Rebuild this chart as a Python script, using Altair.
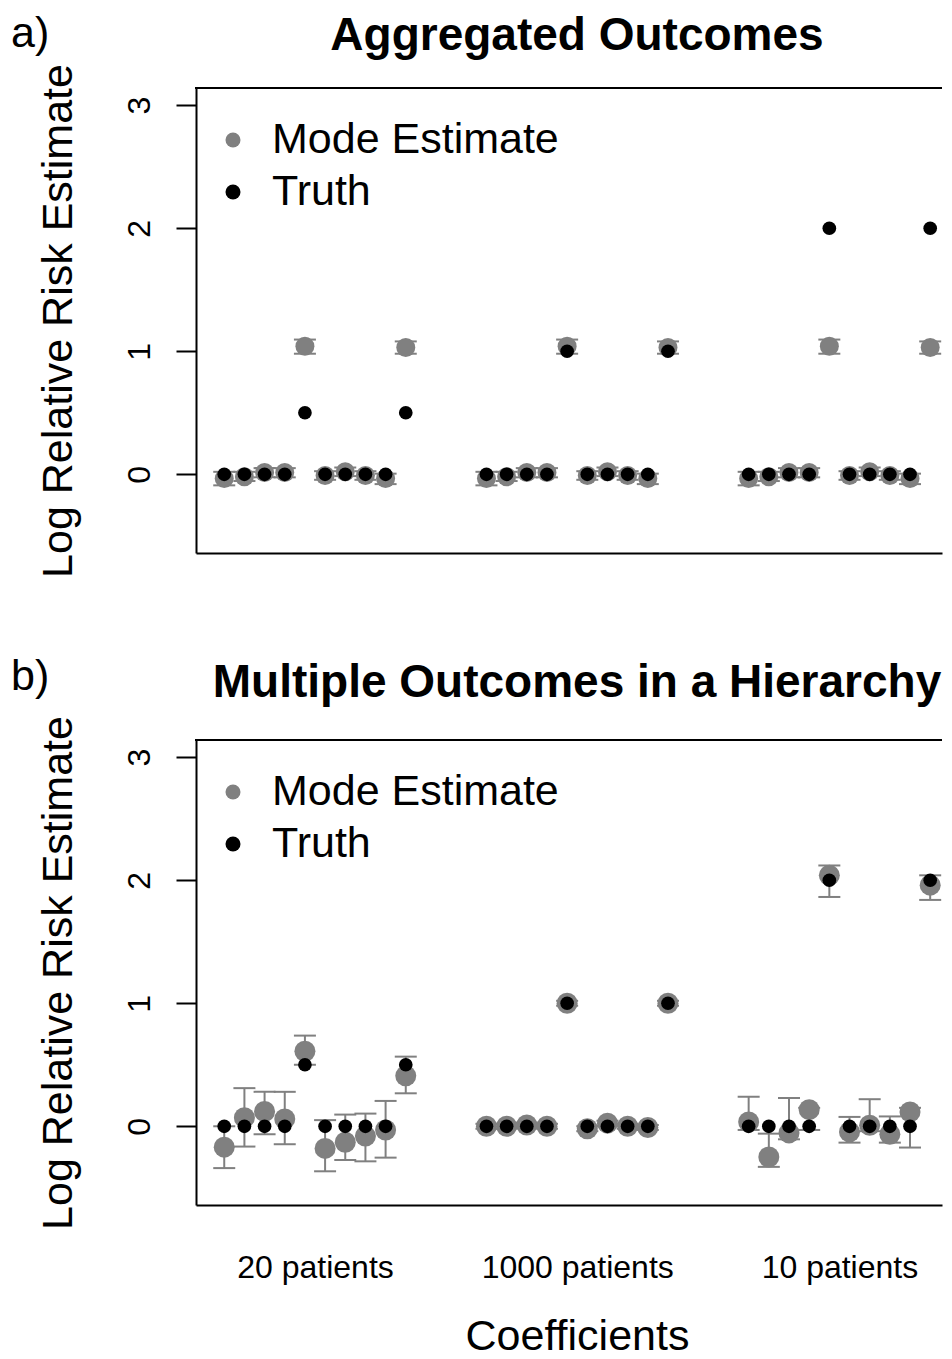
import altair as alt
import pandas as pd

# ---------------- data ----------------
groups = ["20 patients", "1000 patients", "10 patients"]
series_names = ["Mode Estimate", "Truth"]
y_ticks = [0, 1, 2, 3]
panel_tags = ["a)", "b)"]
panel_titles = ["Aggregated Outcomes", "Multiple Outcomes in a Hierarchy"]

truth_20 = [0, 0, 0, 0, 0.5, 0, 0, 0, 0, 0.5]
truth_1000 = [0, 0, 0, 0, 1.0, 0, 0, 0, 0, 1.0]
truth_10 = [0, 0, 0, 0, 2.0, 0, 0, 0, 0, 2.0]

# panel a) aggregated outcomes
mode_a_20 = [-0.035, -0.02, 0.015, 0.015, 1.04, -0.01, 0.02, -0.01, -0.035, 1.03]
lo_a_20 = [-0.09, -0.055, -0.025, -0.025, 0.98, -0.045, -0.015, -0.045, -0.08, 0.98]
hi_a_20 = [0.02, 0.02, 0.05, 0.05, 1.095, 0.025, 0.055, 0.025, 0.005, 1.08]
mode_a_1000 = [-0.035, -0.02, 0.015, 0.015, 1.04, -0.01, 0.02, -0.01, -0.035, 1.03]
lo_a_1000 = [-0.09, -0.055, -0.025, -0.025, 0.98, -0.045, -0.015, -0.045, -0.08, 0.98]
hi_a_1000 = [0.02, 0.02, 0.05, 0.05, 1.095, 0.025, 0.055, 0.025, 0.005, 1.08]
mode_a_10 = [-0.035, -0.02, 0.015, 0.015, 1.04, -0.01, 0.02, -0.01, -0.035, 1.03]
lo_a_10 = [-0.09, -0.055, -0.025, -0.025, 0.98, -0.045, -0.015, -0.045, -0.08, 0.98]
hi_a_10 = [0.02, 0.02, 0.05, 0.05, 1.095, 0.025, 0.055, 0.025, 0.005, 1.08]

# panel b) multiple outcomes in a hierarchy
mode_b_20 = [-0.17, 0.07, 0.12, 0.06, 0.61, -0.18, -0.13, -0.08, -0.03, 0.41]
lo_b_20 = [-0.34, -0.165, -0.065, -0.146, 0.50, -0.366, -0.274, -0.285, -0.255, 0.268]
hi_b_20 = [0.0, 0.31, 0.28, 0.28, 0.737, 0.05, 0.095, 0.103, 0.206, 0.566]
mode_b_1000 = [0.0, 0.0, 0.01, 0.0, 1.0, -0.02, 0.025, 0.0, -0.01, 1.0]
lo_b_1000 = [-0.02, -0.02, -0.01, -0.02, 0.98, -0.04, 0.005, -0.02, -0.03, 0.98]
hi_b_1000 = [0.02, 0.02, 0.03, 0.02, 1.02, 0.0, 0.045, 0.02, 0.01, 1.02]
mode_b_10 = [0.035, -0.25, -0.054, 0.135, 2.04, -0.046, 0.008, -0.065, 0.117, 1.96]
lo_b_10 = [-0.03, -0.33, -0.106, -0.03, 1.864, -0.133, -0.04, -0.133, -0.173, 1.84]
hi_b_10 = [0.24, -0.06, 0.23, 0.15, 2.12, 0.076, 0.22, 0.08, 0.15, 2.04]

# ---------------- style ----------------
FONT = "Liberation Sans"
GRAY = "#808080"
W, H = 746, 465
PX_PER_UNIT = 20.17
N_COEF = 10
GAP = 3
TAG_DY = [-41, -50]
TITLE_DY = [-38, -43]


def xpos(g, i):
    return g * (N_COEF + GAP) + i + 1


group_centers = [sum(xpos(g, i) for i in range(N_COEF)) / N_COEF for g in range(len(groups))]
label_expr = (
    "[" + ",".join("'" + s + "'" for s in groups) + "]"
    + f"[round((datum.value - {group_centers[0]}) / {N_COEF + GAP})]"
)


def build_frames(modes, los, his, truths):
    est_rows, tru_rows = [], []
    for g, name in enumerate(groups):
        for i in range(N_COEF):
            est_rows.append({"x": xpos(g, i), "group": name, "mode": modes[g][i],
                             "lo": los[g][i], "hi": his[g][i], "series": series_names[0]})
            tru_rows.append({"x": xpos(g, i), "group": name, "truth": truths[g][i],
                             "series": series_names[1]})
    return pd.DataFrame(est_rows), pd.DataFrame(tru_rows)


xs = alt.Scale(domain=[-0.4, -0.4 + W / PX_PER_UNIT], nice=False, zero=False)
ys = alt.Scale(domain=[-0.64, 3.14], nice=False, zero=False)
cs = alt.Scale(domain=series_names, range=[GRAY, "black"])


def panel(k, modes, los, his, truths, gray_size, show_x):
    est, tru = build_frames(modes, los, his, truths)

    if show_x:
        xaxis = alt.Axis(values=group_centers, labelExpr=label_expr, ticks=False, tickSize=0,
                         grid=False, domainColor="black", domainWidth=2,
                         labelFont=FONT, labelFontSize=32, labelColor="black", labelLimit=0,
                         labelPadding=72, labelBaseline="alphabetic", labelAlign="center",
                         title="Coefficients", titleFont=FONT, titleFontSize=43,
                         titleFontWeight="normal", titleColor="black", titleLimit=0,
                         titleBaseline="alphabetic", titleAlign="center",
                         titleX=381, titleY=144)
    else:
        xaxis = alt.Axis(labels=False, ticks=False, tickSize=0, grid=False, title=None,
                         domainColor="black", domainWidth=2)

    yaxis = alt.Axis(values=y_ticks, grid=False, tickSize=20, tickWidth=2, tickColor="black",
                     domainColor="black", domainWidth=2, labelAngle=270,
                     labelAlign="center", labelBaseline="alphabetic", labelPadding=27,
                     labelFont=FONT, labelFontSize=32, labelColor="black",
                     title="Log Relative Risk Estimate", titleFont=FONT, titleFontSize=43,
                     titleFontWeight="normal", titleColor="black", titleAngle=270,
                     titleBaseline="alphabetic", titleAlign="center", titleLimit=0,
                     titleX=-125, titleY=H / 2)

    X = alt.X("x:Q", scale=xs, axis=xaxis)
    legend = alt.Legend(orient="none", legendX=15.5, legendY=30.5, title=None,
                        labelFont=FONT, labelFontSize=43, labelColor="black", labelLimit=0,
                        symbolType="circle", symbolSize=225, symbolStrokeWidth=0,
                        symbolOpacity=1, labelOffset=17.5, padding=0, rowPadding=8)
    color = alt.Color("series:N", scale=cs, legend=legend)

    bars = alt.Chart(est).mark_rule(color=GRAY, strokeWidth=2).encode(
        x=X, y=alt.Y("lo:Q", scale=ys, axis=yaxis), y2="hi:Q")
    cap_lo = alt.Chart(est).mark_tick(orient="horizontal", size=22, thickness=2,
                                      color=GRAY, opacity=1).encode(
        x=X, y=alt.Y("lo:Q", scale=ys, axis=yaxis))
    cap_hi = alt.Chart(est).mark_tick(orient="horizontal", size=22, thickness=2,
                                      color=GRAY, opacity=1).encode(
        x=X, y=alt.Y("hi:Q", scale=ys, axis=yaxis))
    pts_est = alt.Chart(est).mark_circle(size=gray_size, opacity=1).encode(
        x=X, y=alt.Y("mode:Q", scale=ys, axis=yaxis), color=color)
    pts_tru = alt.Chart(tru).mark_circle(size=188, opacity=1).encode(
        x=X, y=alt.Y("truth:Q", scale=ys, axis=yaxis), color=color)

    one = pd.DataFrame({"tag": [panel_tags[k]], "title": [panel_titles[k]]})
    top_border = alt.Chart(one).mark_rule(color="black", strokeWidth=2).encode(
        x=alt.value(-1), x2=alt.value(W), y=alt.value(0))
    tag = alt.Chart(one).mark_text(font=FONT, fontSize=43, align="left",
                                   baseline="alphabetic", color="black").encode(
        text="tag:N", x=alt.value(-185), y=alt.value(TAG_DY[k]))
    ttl = alt.Chart(one).mark_text(font=FONT, fontSize=46, fontWeight="bold",
                                   align="center", baseline="alphabetic",
                                   color="black").encode(
        text="title:N", x=alt.value(381), y=alt.value(TITLE_DY[k]))

    return alt.layer(bars, cap_lo, cap_hi, pts_est, pts_tru, top_border, tag, ttl).properties(
        width=W, height=H)


pa = panel(0, [mode_a_20, mode_a_1000, mode_a_10], [lo_a_20, lo_a_1000, lo_a_10],
           [hi_a_20, hi_a_1000, hi_a_10], [truth_20, truth_1000, truth_10], 361, False)
pb = panel(1, [mode_b_20, mode_b_1000, mode_b_10], [lo_b_20, lo_b_1000, lo_b_10],
           [hi_b_20, hi_b_1000, hi_b_10], [truth_20, truth_1000, truth_10], 441, True)

chart = alt.vconcat(pa, pb, spacing=78).resolve_legend(color="independent").properties(
    padding={"left": 3, "top": 5, "right": 0, "bottom": 0},
    background="white",
).configure_view(stroke=None)

chart.save("out.html", embed_options={"renderer": "svg", "actions": False})
